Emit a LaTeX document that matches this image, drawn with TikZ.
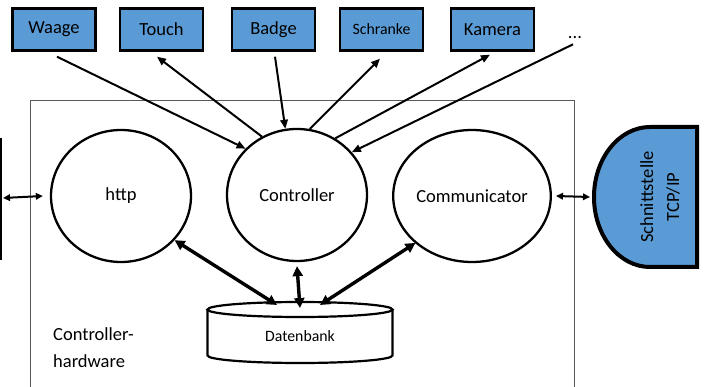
\documentclass[tikz,border=0pt]{standalone}
\usepackage{fontspec}
\setmainfont{Carlito}
\usetikzlibrary{arrows.meta,shapes.geometric,calc}
\definecolor{boxblue}{HTML}{5B9BD5}
\begin{document}
\begin{tikzpicture}[x=1pt,y=-1pt,
  dev/.style={draw=black,fill=boxblue,line width=2.4pt,minimum width=83pt,minimum height=42pt,inner sep=0pt,font=\fontsize{18.5}{20}\selectfont},
  proc/.style={draw=black,ellipse,line width=2.3pt,minimum width=140pt,minimum height=132pt,inner sep=0pt,font=\fontsize{18.5}{20}\selectfont},
  thin/.style={line width=2pt,-{Triangle[length=9pt,width=7.5pt]}},
  thinboth/.style={line width=2pt,{Triangle[length=7pt,width=6.5pt]}-{Triangle[length=7pt,width=6.5pt]}},
  thick/.style={line width=3.4pt,{Triangle[length=10pt,width=10pt]}-{Triangle[length=10pt,width=10pt]}},
  lbl/.style={font=\fontsize{18.5}{20}\selectfont,inner sep=0pt}
]
\useasboundingbox (0,0) rectangle (705,387);

% outer hardware frame
\draw[black!65,line width=1pt] (30,387) -- (30,101) -- (574,101) -- (574,387);

% left partial element
\draw[black,line width=2pt] (0.8,138) -- (0.8,260);

% devices
\node[dev] (waage) at (54,29.5) {Waage};
\node[dev] (touch) at (161.5,29.5) {Touch};
\node[dev] (badge) at (273.5,29.5) {Badge};
\node[dev,font=\fontsize{15.8}{18}\selectfont] (schranke) at (381.5,29.5) {Schranke};
\node[dev] (kamera) at (492.5,29.5) {Kamera};
\node[lbl] (dots) at (575,38) {...};

% processes
\node[proc] (http) at (121,196) {http};
\node[proc] (ctrl) at (297,195) {Controller};
\node[proc] (comm) at (472,196) {Communicator};

% Schnittstelle TCP/IP
\draw[black,fill=boxblue,line width=4pt,line join=miter]
  (697,127) -- (650,127) arc[start angle=90,end angle=270,x radius=56pt,y radius=70pt] -- (697,267) -- cycle;
\node[lbl,rotate=90,align=center,font=\fontsize{18.5}{26}\selectfont] (tcp) at (660,197) {Schnittstelle\\TCP/IP};
\coordinate (tcpw) at (594,197);

% database
\draw[black,line width=2.2pt,fill=white]
  (207.5,309.5) -- (207.5,355.5) arc[start angle=180,end angle=360,x radius=92.5pt,y radius=7.5pt] -- (392.5,309.5);
\draw[black,line width=2.2pt,fill=white] (300,309.5) ellipse[x radius=92.5pt,y radius=7.5pt];
\node[inner sep=0pt,font=\fontsize{15.8}{18}\selectfont] (db) at (300,336) {Datenbank};

% side connectors
\coordinate (leftend) at (3,198);
\draw[thinboth] (leftend) -- ([xshift=-7pt]http.west);
\draw[thinboth] ([xshift=4pt]comm.east) -- ([xshift=-4pt]tcpw);

% device connectors
\draw[thin] ($(waage.south)+(3,5)$) -- (ctrl.138);
\draw[thin] (ctrl.121) -- ($(touch.south)+(-4.5,5)$);
\draw[thin] ($(badge.south)+(1.5,5)$) -- (ctrl.100);
\draw[thin] (ctrl.79) -- ($(schranke.south)+(-1.5,7)$);
\draw[thin] (ctrl.56) -- ($(kamera.south)+(-2.5,3)$);
\draw[thin] ($(dots.south)+(-2,5)$) -- (ctrl.38);

% database connectors
\draw[thick] ($(db)+(-23,-31)$) -- ([shift={(3pt,3pt)}]http.-43);
\draw[thick] ($(db)+(0,-28)$) -- ([yshift=-4pt]ctrl.south);
\draw[thick] ($(db)+(20,-31)$) -- ([shift={(-3pt,3pt)}]comm.223);

% hardware label
\node[lbl,anchor=west,align=left,font=\fontsize{18.5}{27}\selectfont] (hw) at (53,348) {Controller-\\hardware};
\end{tikzpicture}
\end{document}
